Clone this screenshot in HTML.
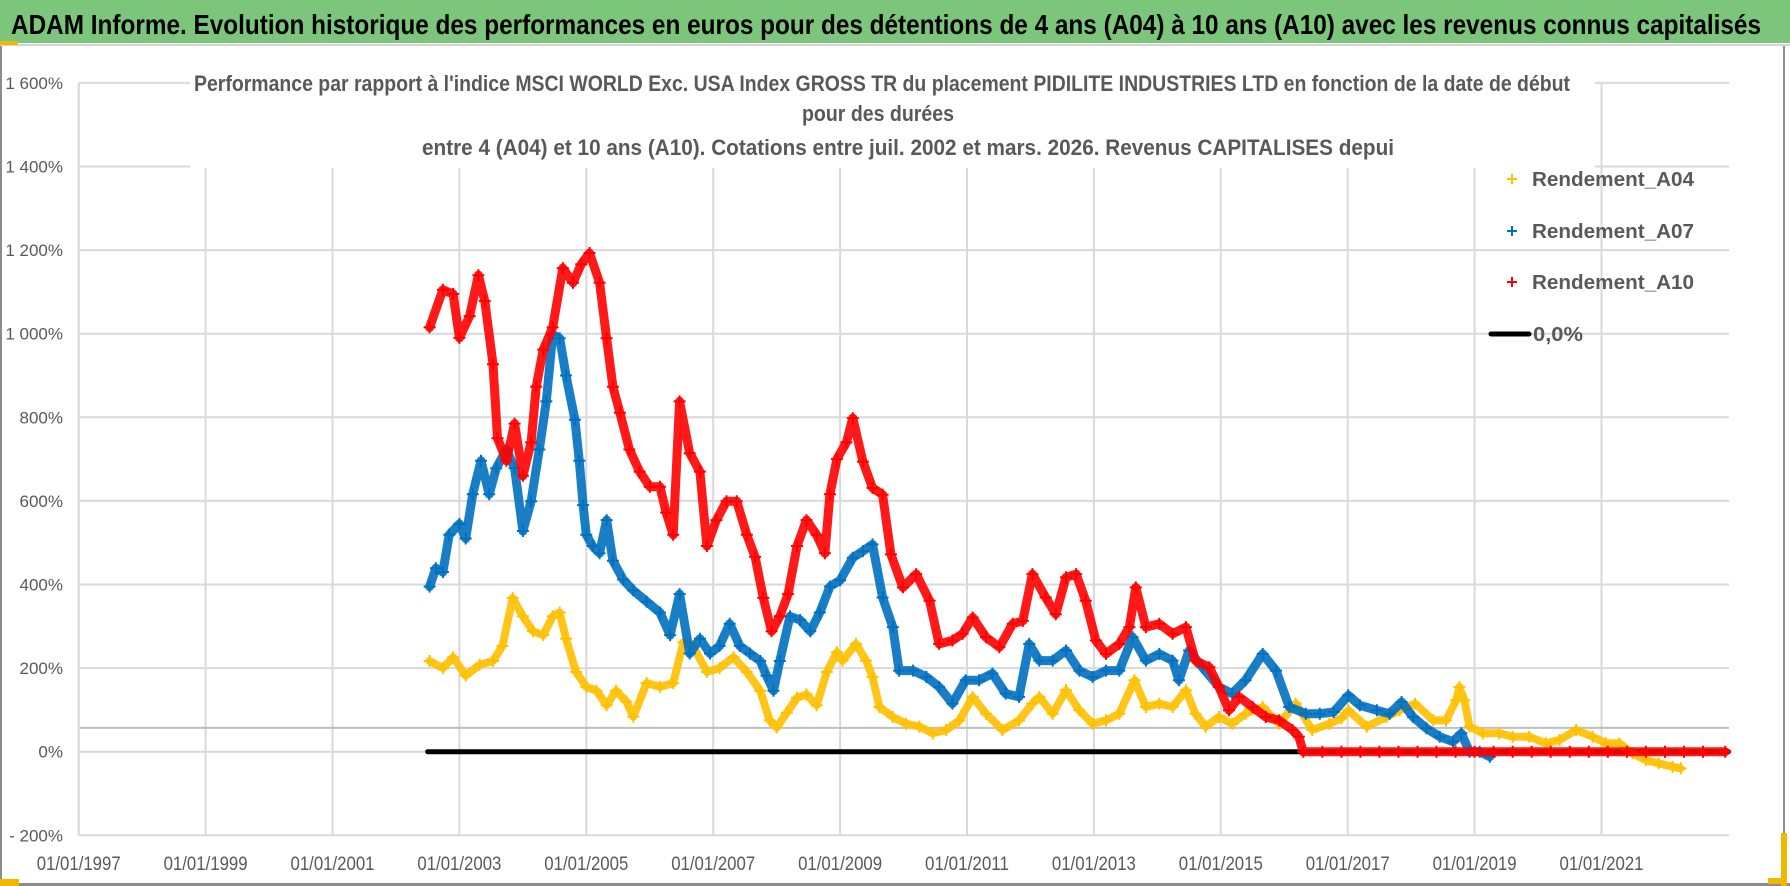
<!DOCTYPE html>
<html><head><meta charset="utf-8"><style>
html,body{margin:0;padding:0;background:#fff;width:1790px;height:886px;overflow:hidden}
svg{display:block;font-family:"Liberation Sans",sans-serif}
</style></head><body>
<svg id="chart" width="1790" height="886" viewBox="0 0 1790 886" xmlns="http://www.w3.org/2000/svg">
<rect x="0" y="0" width="1790" height="886" fill="#fff"/>
<rect x="0" y="0" width="1790" height="43" fill="#7cc67b"/>
<text x="11" y="34" font-size="28" font-weight="bold" fill="#000" textLength="1750" lengthAdjust="spacingAndGlyphs">ADAM Informe. Evolution historique des performances en euros pour des détentions de 4 ans (A04) à 10 ans (A10) avec les revenus connus capitalisés</text>
<rect x="0" y="44" width="1790" height="2" fill="#d4d4d4"/>
<rect x="0" y="41" width="18" height="4" fill="#f2b800"/>
<rect x="0" y="46" width="2" height="840" fill="#8c8c8c"/>
<rect x="1783" y="46" width="2" height="840" fill="#8c8c8c"/>
<rect x="0" y="883" width="1790" height="3" fill="#8c8c8c"/>
<rect x="0" y="879" width="19" height="7" fill="#f2b800"/>
<rect x="1781" y="833" width="6" height="53" fill="#f2b800"/>
<rect x="1768" y="878" width="19" height="6" fill="#f2b800"/>
<g id="grid"></g>
<g id="axes"></g>
<rect x="190" y="58" width="1405" height="110" fill="#fff"/>
<text x="194" y="91" font-size="22" font-weight="bold" fill="#595959" textLength="1376" lengthAdjust="spacingAndGlyphs">Performance par rapport à l'indice MSCI WORLD Exc. USA Index GROSS TR  du placement PIDILITE INDUSTRIES LTD en fonction de la date de début</text>
<text x="878" y="121" font-size="22" font-weight="bold" fill="#595959" text-anchor="middle" textLength="152" lengthAdjust="spacingAndGlyphs">pour des durées</text>
<text x="422" y="155" font-size="22" font-weight="bold" fill="#595959" textLength="972" lengthAdjust="spacingAndGlyphs">entre 4 (A04) et 10 ans (A10). Cotations entre juil. 2002 et mars. 2026. Revenus CAPITALISES depui</text>
<g id="series"></g>
<g id="legend">
  <g>
    <path d="M1507 179h10M1512 174v10" stroke="#ffc000" stroke-width="2"/>
    <text x="1532" y="186" font-size="20" font-weight="bold" fill="#595959" textLength="162" lengthAdjust="spacingAndGlyphs">Rendement_A04</text>
  </g>
  <g>
    <path d="M1507 231h10M1512 226v10" stroke="#0070c0" stroke-width="2"/>
    <text x="1532" y="238" font-size="20" font-weight="bold" fill="#595959" textLength="162" lengthAdjust="spacingAndGlyphs">Rendement_A07</text>
  </g>
  <g>
    <path d="M1507 282h10M1512 277v10" stroke="#ff0000" stroke-width="2"/>
    <text x="1532" y="289" font-size="20" font-weight="bold" fill="#595959" textLength="162" lengthAdjust="spacingAndGlyphs">Rendement_A10</text>
  </g>
  <g>
    <path d="M1491 334h38" stroke="#000" stroke-width="5" stroke-linecap="round"/>
    <text x="1533" y="341" font-size="20" font-weight="bold" fill="#595959" textLength="50" lengthAdjust="spacingAndGlyphs">0,0%</text>
  </g>
</g>
</svg>
<script>
const yTicks = [1600,1400,1200,1000,800,600,400,200,0,-200];
const yTickLabels = ["1 600%","1 400%","1 200%","1 000%","800%","600%","400%","200%","0%","- 200%"];
const xTicks = [1997,1999,2001,2003,2005,2007,2009,2011,2013,2015,2017,2019,2021];
const xTickLabels = ["01/01/1997","01/01/1999","01/01/2001","01/01/2003","01/01/2005","01/01/2007","01/01/2009","01/01/2011","01/01/2013","01/01/2015","01/01/2017","01/01/2019","01/01/2021"];
const refLineValue = 57;
const zeroLine = [2002.5, 2023.0];

const a04Years = [2002.53,2002.74,2002.9,2003.1,2003.32,2003.53,2003.68,2003.84,2004.0,2004.16,2004.32,2004.47,2004.58,2004.68,2004.84,2005.0,2005.16,2005.32,2005.47,2005.63,2005.74,2005.95,2006.16,2006.37,2006.53,2006.68,2006.9,2007.1,2007.32,2007.53,2007.74,2007.89,2008.0,2008.16,2008.32,2008.47,2008.63,2008.79,2008.95,2009.04,2009.25,2009.41,2009.51,2009.62,2009.83,2010.04,2010.25,2010.46,2010.67,2010.88,2011.09,2011.3,2011.56,2011.82,2012.03,2012.14,2012.35,2012.56,2012.77,2012.98,2013.19,2013.4,2013.64,2013.82,2014.03,2014.24,2014.45,2014.6,2014.76,2014.97,2015.18,2015.39,2015.66,2015.92,2016.18,2016.44,2016.71,2016.9,2017.01,2017.3,2017.61,2017.82,2018.06,2018.35,2018.55,2018.71,2018.76,2018.84,2018.92,2019.13,2019.39,2019.6,2019.86,2020.12,2020.34,2020.6,2020.86,2021.07,2021.28,2021.49,2021.7,2021.9,2022.12,2022.25];
const a04Values = [217,200,226,182,208,217,253,368,324,288,279,324,333,270,191,155,146,111,146,120,84,164,155,164,262,253,191,200,226,191,146,75,58,93,129,137,111,191,238,218,258,218,179,107,83,67,60,44,52,75,131,91,52,75,115,131,91,147,99,67,75,91,171,107,115,107,147,91,60,83,67,91,107,67,115,52,67,80,99,60,83,99,115,75,75,123,155,123,60,44,44,36,36,20,28,52,36,20,20,-4,-20,-28,-36,-40];

const a07Years = [2002.53,2002.63,2002.74,2002.84,2003.0,2003.1,2003.21,2003.34,2003.47,2003.58,2003.74,2003.87,2004.0,2004.13,2004.26,2004.37,2004.47,2004.58,2004.68,2004.82,2004.89,2004.95,2005.0,2005.1,2005.21,2005.32,2005.42,2005.58,2005.74,2005.95,2006.16,2006.32,2006.47,2006.63,2006.79,2006.95,2007.1,2007.26,2007.42,2007.58,2007.74,2007.84,2007.95,2008.05,2008.21,2008.37,2008.53,2008.68,2008.84,2009.0,2009.2,2009.36,2009.51,2009.67,2009.83,2009.93,2010.15,2010.36,2010.56,2010.77,2010.98,2011.19,2011.4,2011.61,2011.82,2011.98,2012.14,2012.35,2012.56,2012.77,2012.98,2013.19,2013.4,2013.61,2013.82,2014.03,2014.24,2014.34,2014.5,2014.71,2014.97,2015.18,2015.39,2015.66,2015.87,2016.08,2016.34,2016.56,2016.78,2017.01,2017.19,2017.46,2017.66,2017.85,2018.03,2018.24,2018.45,2018.66,2018.79,2018.92,2019.08,2019.24];
const a07Values = [395,439,430,519,545,510,616,696,616,678,723,678,528,599,723,838,998,989,900,794,696,590,519,492,475,554,457,412,386,359,333,279,377,235,270,235,253,306,253,235,217,182,146,217,324,315,288,333,395,410,464,480,496,369,298,194,194,179,155,115,171,171,187,139,131,258,218,218,242,194,179,194,194,274,218,234,218,171,242,202,155,139,171,234,194,107,91,91,95,135,111,99,91,119,83,56,36,24,44,0,0,-12];

const a10Years = [2002.53,2002.74,2002.9,2003.0,2003.16,2003.3,2003.4,2003.53,2003.6,2003.74,2003.87,2004.0,2004.13,2004.21,2004.32,2004.47,2004.63,2004.79,2004.92,2005.05,2005.21,2005.32,2005.42,2005.53,2005.68,2005.84,2006.0,2006.16,2006.26,2006.37,2006.47,2006.63,2006.79,2006.9,2007.05,2007.21,2007.37,2007.53,2007.66,2007.79,2007.92,2008.05,2008.18,2008.32,2008.47,2008.63,2008.76,2008.84,2008.95,2009.1,2009.2,2009.36,2009.51,2009.67,2009.8,2009.99,2010.2,2010.41,2010.56,2010.77,2010.93,2011.09,2011.3,2011.51,2011.72,2011.88,2012.03,2012.24,2012.4,2012.56,2012.72,2012.87,2013.03,2013.19,2013.4,2013.56,2013.66,2013.82,2014.03,2014.24,2014.45,2014.6,2014.82,2014.97,2015.13,2015.29,2015.5,2015.71,2015.92,2016.13,2016.23,2016.3,2016.6,2016.9,2017.2,2017.5,2017.8,2018.1,2018.4,2018.7,2019.0,2019.3,2019.6,2019.9,2020.2,2020.5,2020.8,2021.1,2021.4,2021.7,2022.0,2022.3,2022.6,2022.95];
const a10Values = [1015,1105,1095,990,1042,1140,1078,927,750,696,785,660,740,873,962,1015,1157,1122,1166,1193,1122,989,873,811,723,670,634,634,572,519,838,714,670,492,554,599,599,519,466,368,288,324,377,492,554,519,475,616,700,740,798,694,631,615,472,393,425,361,258,266,282,321,274,250,306,313,425,369,329,417,425,361,266,234,258,298,393,298,306,282,298,218,202,155,99,131,107,83,75,52,36,0,0,0,0,0,0,0,0,0,0,0,0,0,0,0,0,0,0,0,0,0,0,0];

const X0 = 78.7, PX_PER_YEAR = 63.45, Y0 = 751.7, PX_PER_PCT = 0.418, XR = 1729;
function xs(yr){ return X0 + (yr - 1997) * PX_PER_YEAR; }
function ys(v){ return Y0 - v * PX_PER_PCT; }
const NS = "http://www.w3.org/2000/svg";
function mk(tag, attrs, parent){ const e = document.createElementNS(NS, tag); for (const k in attrs) e.setAttribute(k, attrs[k]); parent.appendChild(e); return e; }

const grid = document.getElementById('grid');
yTicks.forEach(function(v){
  const l = mk('line', {x1:X0, x2:XR, y1:ys(v), y2:ys(v), stroke:'#d9d9d9', 'stroke-width':2}, grid);
  
  
});
xTicks.forEach(function(t){
  const l = mk('line', {x1:xs(t), x2:xs(t), y1:ys(1600), y2:ys(-200), stroke:'#d9d9d9', 'stroke-width':2}, grid);
  
  
});
const ref = mk('line', {x1:X0, x2:XR, y1:ys(refLineValue), y2:ys(refLineValue), stroke:'#bfbfbf', 'stroke-width':2}, grid);



const axes = document.getElementById('axes');
const ya = mk('line', {x1:X0, x2:X0, y1:ys(1600), y2:ys(-200), stroke:'#d9d9d9', 'stroke-width':2}, axes);


yTicks.forEach(function(v, i){
  const t = mk('text', {x:63, y:ys(v)+6, 'text-anchor':'end', 'font-size':17, fill:'#595959'}, axes);
  t.textContent = yTickLabels[i];
  
  
});
xTicks.forEach(function(yr, i){
  const t = mk('text', {x:xs(yr), y:870, 'text-anchor':'middle', 'font-size':19, fill:'#595959', textLength:84, lengthAdjust:'spacingAndGlyphs'}, axes);
  t.textContent = xTickLabels[i];
  
  
});

const series = document.getElementById('series');
const zl = mk('line', {x1:xs(zeroLine[0]), x2:xs(zeroLine[1]), y1:ys(0), y2:ys(0), stroke:'#000', 'stroke-width':5, 'stroke-linecap':'round'}, series);



function drawSeries(years, vals, color, name, w){
  const g = mk('g', {}, series);
  
  
  const pts = years.map(function(yr, i){ return xs(yr).toFixed(1) + ',' + ys(vals[i]).toFixed(1); }).join(' ');
  const pl = mk('polyline', {points:pts, fill:'none', stroke:color, 'stroke-width':w, 'stroke-linejoin':'round', 'stroke-linecap':'round', opacity:0.9}, g);
  
  
  let d = '';
  years.forEach(function(yr, i){
    const x = xs(yr), y = ys(vals[i]);
    d += 'M' + (x-6).toFixed(1) + ' ' + y.toFixed(1) + 'h12M' + x.toFixed(1) + ' ' + (y-6).toFixed(1) + 'v12';
  });
  const mp = mk('path', {d:d, stroke:color, 'stroke-width':2, fill:'none'}, g);
  
  
}
drawSeries(a04Years, a04Values, '#ffc000', 'series-a04', 8);
drawSeries(a07Years, a07Values, '#0070c0', 'series-a07', 9);
drawSeries(a10Years, a10Values, '#ff0000', 'series-a10', 9);
</script>
</body></html>
